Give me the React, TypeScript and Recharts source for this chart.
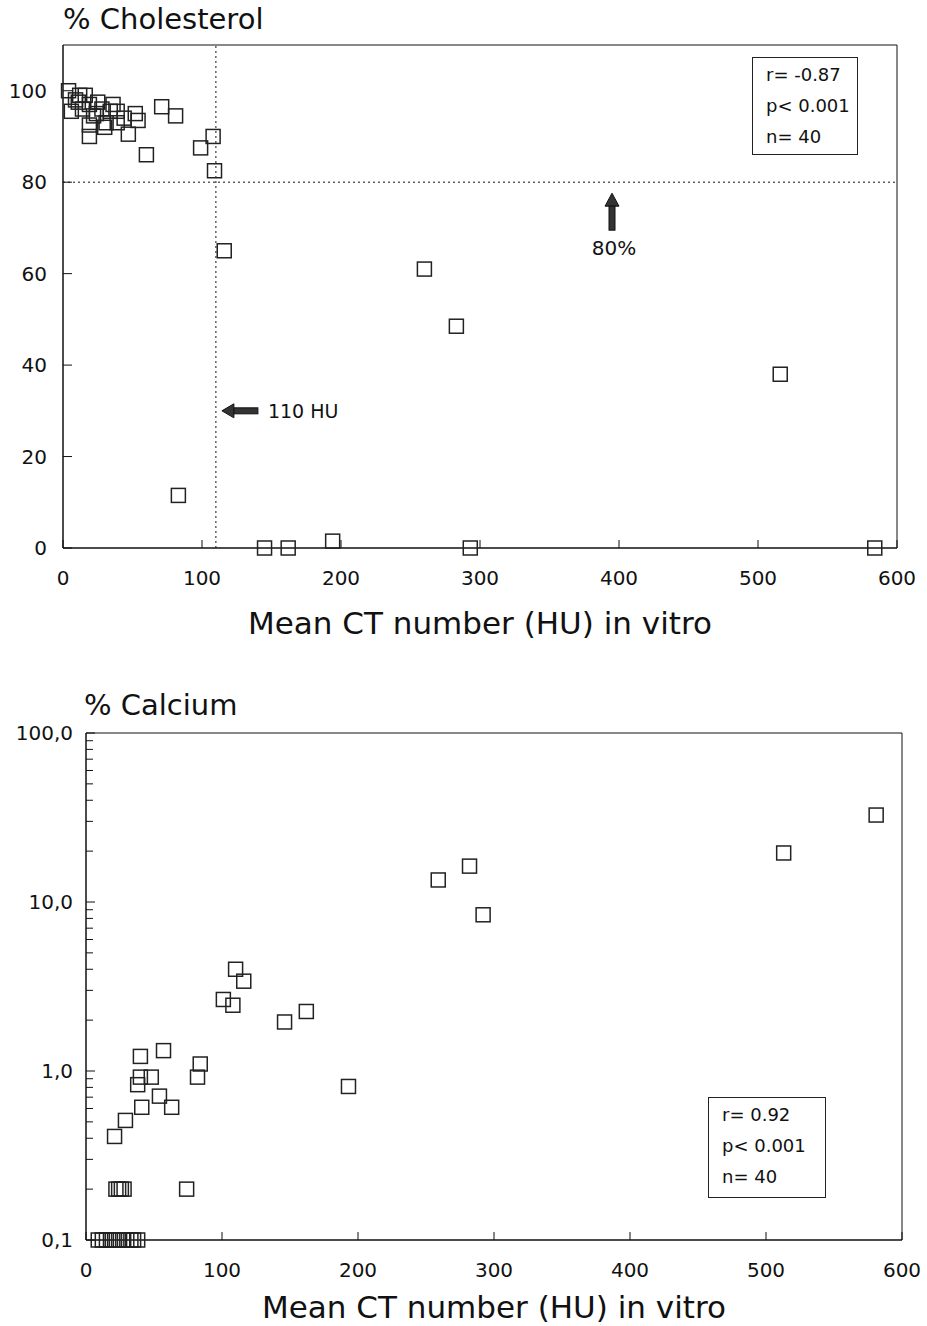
import { ScatterChart, Scatter, XAxis, YAxis, ReferenceLine, ReferenceArea, ReferenceDot } from 'recharts'

const FONT = '"DejaVu Sans", "Liberation Sans", sans-serif'
const INK = '#111'

// top: % cholesterol vs mean CT number
const cholX = [4, 12, 6, 14, 19, 25, 28, 34, 39, 19, 19, 31, 39, 52, 54, 47, 60, 71, 81, 99,
  108, 109, 116, 260, 283, 516, 584, 145, 162, 194, 293, 83, 9, 16, 22, 44, 36, 11, 24, 30]
const cholY = [100, 99, 95.5, 96, 97, 97.5, 96, 95.5, 95.5, 92.5, 90, 93, 93, 95, 93.5, 90.5, 86, 96.5, 94.5, 87.5,
  90, 82.5, 65, 61, 48.5, 38, 0, 0, 0, 1.5, 0, 11.5, 98, 99, 94.5, 94, 97, 97.5, 95, 92]

// bottom: % calcium (log) vs mean CT number
const calcX = [581, 513, 282, 259, 292, 110, 116, 101, 108, 146, 162, 193, 40, 57, 84, 82, 38, 40, 48, 54,
  41, 63, 29, 21, 74, 22, 24, 26, 28, 9, 12, 15, 18, 21, 24, 27, 30, 33, 35, 38]
const calcY = [32.7, 19.5, 16.3, 13.5, 8.4, 4.0, 3.4, 2.65, 2.45, 1.95, 2.25, 0.81, 1.22, 1.32, 1.1, 0.92, 0.83, 0.92, 0.92, 0.71,
  0.61, 0.61, 0.51, 0.41, 0.2, 0.2, 0.2, 0.2, 0.2, 0.1, 0.1, 0.1, 0.1, 0.1, 0.1, 0.1, 0.1, 0.1, 0.1, 0.1]

const xTicks = [0, 100, 200, 300, 400, 500, 600]
const cholTicks = [0, 20, 40, 60, 80, 100]
const calcTicks = [0.1, 0.2, 0.3, 0.4, 0.5, 0.6, 0.7, 0.8, 0.9, 1, 2, 3, 4, 5, 6, 7, 8, 9,
  10, 20, 30, 40, 50, 60, 70, 80, 90, 100]
const calcLabels: Record<number, string> = { 0.1: '0,1', 1: '1,0', 10: '10,0', 100: '100,0' }

const cholData = cholX.map((x, i) => ({ x, y: cholY[i] }))
const calcData = calcX.map((x, i) => ({ x, y: calcY[i] }))

const Box = (p: any) => (
  <rect x={p.cx - 7} y={p.cy - 7} width={14} height={14} fill="none" stroke="#222" strokeWidth={1.5} />
)

const XTick = (p: any) => (
  <g>
    <line x1={p.x} x2={p.x} y1={p.y} y2={p.y - 8} stroke={INK} />
    <text x={p.x} y={p.y + 37} textAnchor="middle" fontSize={20} fontFamily={FONT} fill={INK}>
      {p.payload.value}
    </text>
  </g>
)

const CholYTick = (p: any) => (
  <g>
    <line x1={p.x} x2={p.x + 9} y1={p.y} y2={p.y} stroke={INK} />
    <text x={p.x - 16} y={p.y + 7} textAnchor="end" fontSize={20} fontFamily={FONT} fill={INK}>
      {p.payload.value}
    </text>
  </g>
)

const CalcYTick = (p: any) => {
  const label = calcLabels[p.payload.value]
  return (
    <g>
      <line x1={p.x} x2={p.x + (label ? 9 : 7)} y1={p.y} y2={p.y} stroke={INK} />
      {label && (
        <text x={p.x - 13} y={p.y + 7} textAnchor="end" fontSize={20} fontFamily={FONT} fill={INK}>
          {label}
        </text>
      )}
    </g>
  )
}

const LeftArrow = (p: any) => (
  <g>
    <polygon points={`${p.cx + 6},${p.cy} ${p.cx + 18},${p.cy - 7} ${p.cx + 18},${p.cy + 7}`} fill="#333" stroke={INK} />
    <rect x={p.cx + 18} y={p.cy - 3} width={24} height={6} fill="#333" stroke={INK} />
    <text x={p.cx + 52} y={p.cy + 7} fontSize={19} fontFamily={FONT} fill={INK}>110 HU</text>
  </g>
)

const UpArrow = (p: any) => (
  <g>
    <polygon points={`${p.cx - 7},${p.cy + 11} ${p.cx - 14},${p.cy + 24} ${p.cx},${p.cy + 24}`} fill="#333" stroke={INK} />
    <rect x={p.cx - 10} y={p.cy + 24} width={6} height={24} fill="#333" stroke={INK} />
    <text x={p.cx - 5} y={p.cy + 73} textAnchor="middle" fontSize={20} fontFamily={FONT} fill={INK}>80%</text>
  </g>
)

const statStyle = (left: number, top: number, width: number, height: number): React.CSSProperties => ({
  position: 'absolute', left, top, width, height, border: '1.5px solid #222', boxSizing: 'border-box',
  fontFamily: FONT, fontSize: 18, color: INK, lineHeight: '31px', paddingLeft: 13, paddingTop: 1,
})

const titleStyle = (left: number, top: number): React.CSSProperties => ({
  position: 'absolute', left, top, fontFamily: FONT, fontSize: 29, color: INK, lineHeight: '29px', whiteSpace: 'nowrap',
})

const xTitle = { value: 'Mean CT number (HU) in vitro', position: 'insideBottom' as const, offset: 0, fontSize: 31, fill: INK, fontFamily: FONT }

export default function App() {
  return (
    <div style={{ position: 'absolute', left: 0, top: 0, width: 927, height: 1326, background: '#fff' }}>
      <div style={titleStyle(63, 5)}>% Cholesterol</div>
      <div style={{ position: 'absolute', left: 0, top: 0 }}>
        <ScatterChart width={927} height={650} margin={{ top: 45, right: 30, left: 0, bottom: 16 }}>
          <XAxis dataKey="x" type="number" domain={[0, 600]} ticks={xTicks} interval={0}
            tickSize={0} tickMargin={0} tick={<XTick />} stroke={INK} height={86} label={xTitle} />
          <YAxis dataKey="y" type="number" domain={[0, 110]} ticks={cholTicks} interval={0}
            tickSize={0} tickMargin={0} tick={<CholYTick />} stroke={INK} width={63} />
          <ReferenceArea x1={0} x2={600} y1={0} y2={110} fill="none" stroke={INK} strokeWidth={1} />
          <ReferenceLine x={110} stroke={INK} strokeDasharray="2 3" />
          <ReferenceLine y={80} stroke={INK} strokeDasharray="2 3" />
          <Scatter data={cholData} shape={Box} isAnimationActive={false} />
          <ReferenceDot x={110} y={30} r={0} shape={LeftArrow} />
          <ReferenceDot x={400} y={80} r={0} shape={UpArrow} />
        </ScatterChart>
      </div>
      <div style={statStyle(752, 57, 106, 98)}>
        <div>r= -0.87</div><div>p&lt; 0.001</div><div>n= 40</div>
      </div>

      <div style={titleStyle(84, 691)}>% Calcium</div>
      <div style={{ position: 'absolute', left: 0, top: 660 }}>
        <ScatterChart width={927} height={666} margin={{ top: 73, right: 25, left: 0, bottom: 8 }}>
          <XAxis dataKey="x" type="number" domain={[0, 600]} ticks={xTicks} interval={0}
            tickSize={0} tickMargin={0} tick={<XTick />} stroke={INK} height={78} label={xTitle} />
          <YAxis dataKey="y" type="number" scale="log" domain={[0.1, 100]} ticks={calcTicks} interval={0}
            tickSize={0} tickMargin={0} tick={<CalcYTick />} stroke={INK} width={86} />
          <ReferenceArea x1={0} x2={600} y1={0.1} y2={100} fill="none" stroke={INK} strokeWidth={1} />
          <Scatter data={calcData} shape={Box} isAnimationActive={false} />
        </ScatterChart>
      </div>
      <div style={statStyle(708, 1097, 118, 101)}>
        <div>r= 0.92</div><div>p&lt; 0.001</div><div>n= 40</div>
      </div>
    </div>
  )
}
